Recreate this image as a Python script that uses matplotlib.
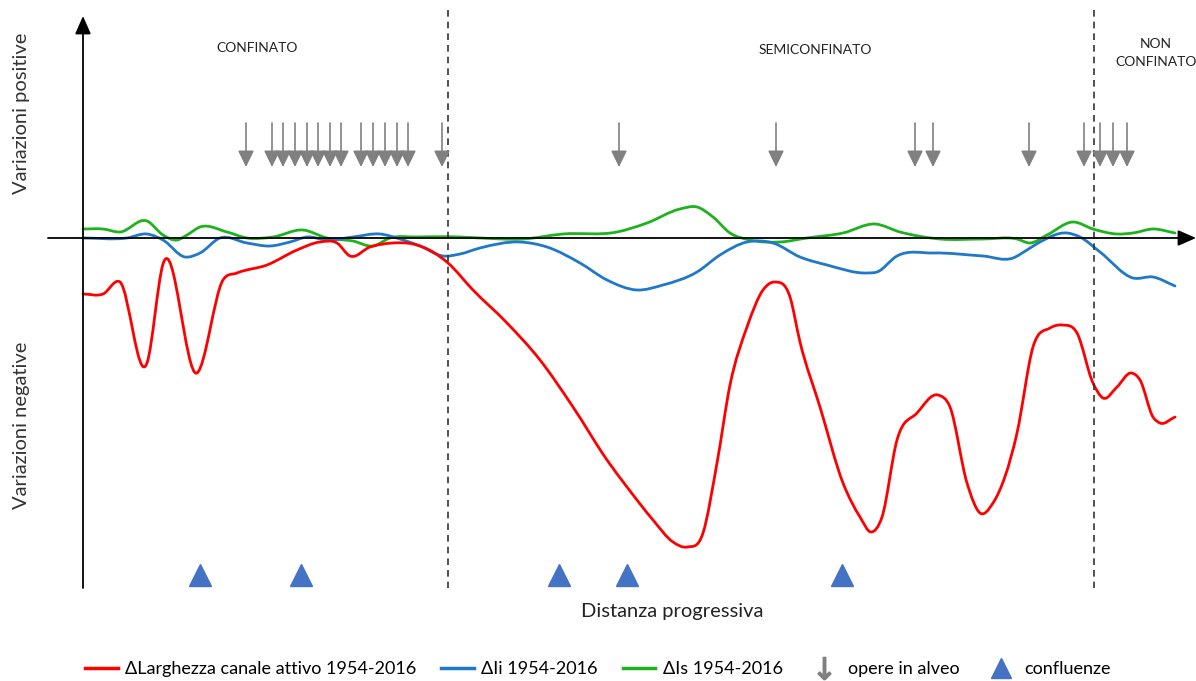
import numpy as np
import matplotlib
matplotlib.use("Agg")
import matplotlib.pyplot as plt
from matplotlib.path import Path
from matplotlib.patches import PathPatch
from matplotlib.lines import Line2D

plt.rcParams['font.family'] = ['Lato', 'DejaVu Sans']

# distance along the river (arbitrary units) and variation (positive up)
red_x = [0, 20, 37, 64, 80, 114, 140, 154, 184, 214, 237, 254, 267, 287, 310, 330, 350, 365,
         390, 424, 457, 490, 524, 544, 570, 590, 604, 620, 634, 647, 664, 680, 692, 707, 717,
         737, 760, 777, 788, 799, 814, 834, 855, 867, 884, 897, 910, 934, 950, 967, 979, 994,
         1010, 1020, 1034, 1048, 1057, 1070, 1077, 1092]
red_y = [-56, -56, -44, -125, -26, -135, -42, -35, -27, -12, -4, -5, -18, -9, -5, -6, -14, -25,
         -52, -85, -122, -169, -222, -249, -282, -304, -309, -295, -225, -147, -89, -52, -44, -59, -104,
         -169, -245, -279, -294, -279, -202, -175, -157, -169, -245, -275, -265, -195, -109, -90, -87, -95,
         -145, -160, -149, -135, -142, -179, -185, -179]

blue_x = [0, 44, 64, 80, 102, 117, 137, 164, 187, 207, 224, 244, 270, 297, 317, 337, 360, 377,
          397, 437, 464, 497, 524, 554, 580, 614, 637, 664, 690, 717, 744, 784, 794, 814, 850,
          900, 930, 944, 957, 984, 997, 1017, 1050, 1070, 1092]
blue_y = [0, 0, 4, -2, -19, -15, 0, -5, -8, -4, 1, -2, 1, 4, -1, -8, -18, -16,
          -10, -4, -9, -25, -42, -52, -47, -34, -17, -4, -5, -19, -27, -35, -34, -18, -15,
          -18, -20, -12, -4, 5, 1, -14, -40, -39, -48]

green_x = [0, 20, 37, 64, 80, 94, 104, 117, 144, 164, 190, 220, 244, 270, 290, 307, 334, 377,
           397, 440, 480, 534, 564, 597, 614, 630, 647, 667, 697, 724, 760, 792, 817, 857, 900,
           934, 947, 964, 990, 1010, 1034, 1050, 1070, 1092]
green_y = [9, 9, 6, 17, 3, -2, 3, 11, 6, 0, 1, 8, 0, -3, -8, 0, 1, 1,
           0, -1, 4, 6, 15, 29, 31, 21, 5, -2, -4, 0, 5, 14, 6, -1, -1,
           -1, -5, 3, 16, 9, 4, 5, 9, 5]

opere_x = [163, 189, 200, 212, 224, 235, 247, 258, 278, 290, 302, 314, 325, 359,
           536, 693, 832, 850, 946, 1001, 1017, 1030, 1044]
confluenze_x = [117, 218, 476, 544, 759]
limiti_x = [365, 1011]

tratti = ["CONFINATO", "SEMICONFINATO", "NON\nCONFINATO"]
tratti_x = [174, 732, 1073]
tratti_y = [190, 188, 185]

legend_labels = ["\u0394Larghezza canale attivo 1954-2016", "\u0394Ii 1954-2016",
                 "\u0394Is 1954-2016", "opere in alveo", "confluenze"]

c_red = '#ff0000'
c_blue = '#1f78c8'
c_green = '#1db31d'
c_tri = '#4472c4'


def smooth_path(xs, ys):
    # cubic hermite in x drawn as bezier segments (the "smoothed line" of the original)
    x = np.asarray(xs, float)
    y = np.asarray(ys, float)
    m = np.gradient(y, x)
    verts = [(x[0], y[0])]
    codes = [Path.MOVETO]
    for i in range(len(x) - 1):
        h = (x[i + 1] - x[i]) / 3
        verts += [(x[i] + h, y[i] + h * m[i]),
                  (x[i + 1] - h, y[i + 1] - h * m[i + 1]),
                  (x[i + 1], y[i + 1])]
        codes += [Path.CURVE4] * 3
    return Path(verts, codes)


fig = plt.figure(figsize=(11.96, 6.81), dpi=100)
ax = fig.add_axes([0, 0, 1, 1])
ax.set_xlim(-83, 1113)
ax.set_ylim(-443, 238)
ax.axis('off')

# axes with arrows
ax.annotate('', xy=(0, 222), xytext=(0, -350),
            arrowprops=dict(arrowstyle='-|>,head_length=0.5,head_width=0.22', color='black',
                            lw=1.3, mutation_scale=22, shrinkA=0, shrinkB=0))
ax.annotate('', xy=(1113, 0), xytext=(-35, 0),
            arrowprops=dict(arrowstyle='-|>,head_length=0.5,head_width=0.22', color='black',
                            lw=1.3, mutation_scale=22, shrinkA=0, shrinkB=0))

for xl in limiti_x:
    ax.plot([xl, xl], [228, -350], color='#333333', lw=1.2, ls=(0, (4, 3)))

for xs, ys, c in [(green_x, green_y, c_green), (blue_x, blue_y, c_blue), (red_x, red_y, c_red)]:
    ax.add_patch(PathPatch(smooth_path(xs, ys), fill=False, edgecolor=c, lw=2.0,
                           capstyle='round', joinstyle='round'))

for xo in opere_x:
    ax.annotate('', xy=(xo, 71), xytext=(xo, 115),
                arrowprops=dict(arrowstyle='-|>,head_length=0.45,head_width=0.22', color='#808080',
                                lw=1.2, mutation_scale=22, shrinkA=0, shrinkB=0))

ax.plot(confluenze_x, [-337] * len(confluenze_x), ls='none', marker='^', ms=16,
        color=c_tri, mec=c_tri)

for t, x, y in zip(tratti, tratti_x, tratti_y):
    ax.text(x, y, t, ha='center', va='center', fontsize=10, color='#222222', linespacing=1.6)

ax.text(-61, 125, "Variazioni positive", rotation=90, ha='center', va='center',
        fontsize=14.5, color='#333333')
ax.text(-61, -187, "Variazioni negative", rotation=90, ha='center', va='center',
        fontsize=14.5, color='#333333')
ax.text(589, -374, "Distanza progressiva", ha='center', va='center', fontsize=14.5, color='#222222')

handles = [Line2D([], [], color=c_red, lw=2.5),
           Line2D([], [], color=c_blue, lw=2.5),
           Line2D([], [], color=c_green, lw=2.5),
           Line2D([], [], color='#808080', ls='none', marker=r'$\downarrow$', ms=16),
           Line2D([], [], color=c_tri, ls='none', marker='^', ms=14)]
fig.legend(handles, legend_labels, loc='center', bbox_to_anchor=(0.5, 0.017), ncol=5,
           frameon=False, fontsize=13, handlelength=1.8, columnspacing=1.4, handletextpad=0.4)

fig.savefig('out.png', dpi=100)
